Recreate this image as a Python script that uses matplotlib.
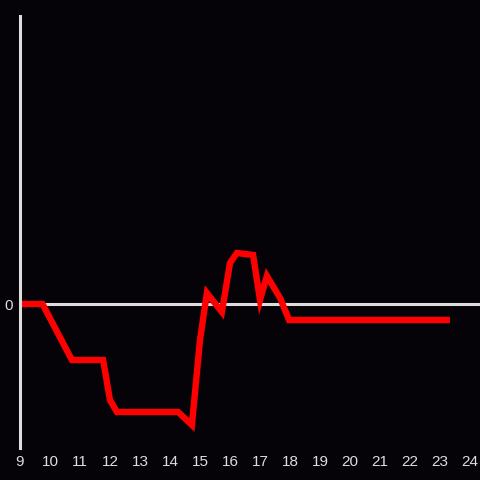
import matplotlib
matplotlib.use("Agg")
import matplotlib.pyplot as plt

# hours of day and values
hours = [9.0, 9.75, 10.73, 11.77, 12.0, 12.23, 14.27, 14.73, 15.0, 15.23,
         15.73, 16.0, 16.23, 16.77, 17.0, 17.23, 17.67, 17.97, 23.33]
values = [0, 0, -14, -14, -24, -27, -27, -30.25, -9, 2.75,
          -2, 10.25, 12.75, 12.25, 1, 7, 1.5, -4, -4]
xticks = list(range(9, 25))

bg = "#050308"
fg = "#dddddd"

plt.rcParams["font.family"] = ["Liberation Sans", "DejaVu Sans"]

fig = plt.figure(figsize=(4.8, 4.8), dpi=100, facecolor=bg)
ax = fig.add_axes([20 / 480, 32 / 480, 460 / 480, 432 / 480], facecolor=bg)

ax.axhline(0, color=fg, linewidth=2.2, zorder=1)
ax.plot(hours, values, color="#ff0000", linewidth=4.6,
        solid_joinstyle="miter", solid_capstyle="butt", zorder=2)

ax.set_xlim(9, 24 + 1 / 3)
ax.set_ylim(-36, 72)
ax.set_xticks(xticks)
ax.set_yticks([0])
ax.tick_params(length=0, colors=fg, labelsize=11, pad=5)

for side in ["top", "right", "bottom"]:
    ax.spines[side].set_visible(False)
ax.spines["left"].set_color(fg)
ax.spines["left"].set_linewidth(2.2)

fig.savefig("out.png", dpi=100, facecolor=bg)
